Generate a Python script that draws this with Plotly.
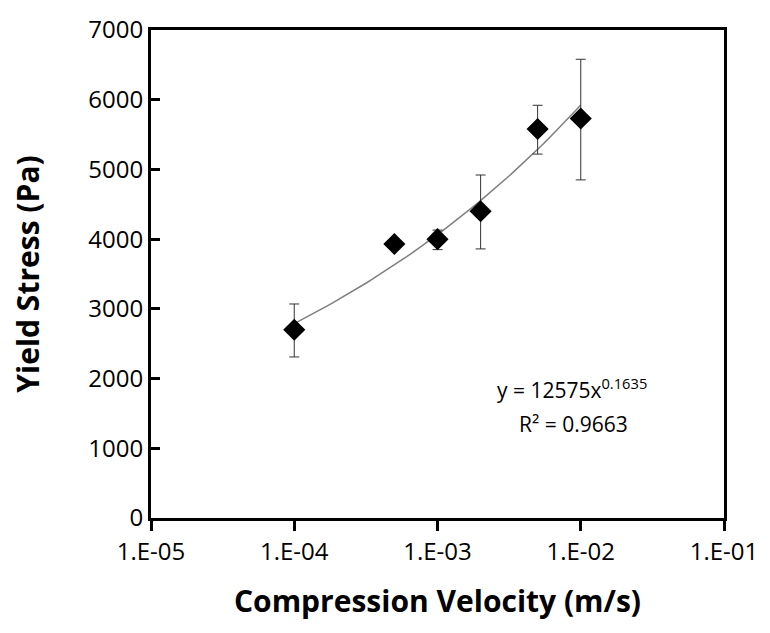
import numpy as np
import plotly.graph_objects as go

velocity = [1e-4, 5e-4, 1e-3, 2e-3, 5e-3, 1e-2]
yield_stress = [2700, 3930, 4000, 4400, 5580, 5730]
err_plus = [370, 0, 130, 520, 340, 850]
err_minus = [390, 0, 150, 540, 360, 880]

fit_a = 12575
fit_b = 0.1635
fit_x = np.logspace(-4, -2, 60)
fit_y = fit_a * fit_x ** fit_b

x_tickvals = [1e-5, 1e-4, 1e-3, 1e-2, 1e-1]
x_ticktext = ["1.E-05", "1.E-04", "1.E-03", "1.E-02", "1.E-01"]
y_tickvals = [0, 1000, 2000, 3000, 4000, 5000, 6000, 7000]

FONT = "Open Sans"

fig = go.Figure()
fig.add_trace(go.Scatter(
    x=fit_x, y=fit_y, mode="lines",
    line=dict(color="#7f7f7f", width=1.5), showlegend=False, hoverinfo="skip"))
fig.add_trace(go.Scatter(
    x=velocity, y=yield_stress, mode="markers",
    marker=dict(symbol="diamond", size=17, color="black"),
    error_y=dict(type="data", symmetric=False, array=err_plus, arrayminus=err_minus,
                 color="#333333", thickness=1, width=5),
    showlegend=False))

fig.add_annotation(xref="paper", yref="paper", x=0.735, y=0.265, showarrow=False,
                   text="y = 12575x<sup>0.1635</sup>", font=dict(family=FONT, size=21, color="black"),
                   xanchor="center", yanchor="middle")
fig.add_annotation(xref="paper", yref="paper", x=0.738, y=0.193, showarrow=False,
                   text="R² = 0.9663", font=dict(family=FONT, size=21, color="black"),
                   xanchor="center", yanchor="middle")

fig.update_layout(
    width=770, height=633,
    margin=dict(l=151, r=46, t=27, b=115),
    paper_bgcolor="white", plot_bgcolor="white",
    font=dict(family=FONT, color="black"),
    xaxis=dict(type="log", range=[-5, -1], tickvals=x_tickvals, ticktext=x_ticktext,
               ticks="outside", ticklen=10, tickwidth=3, tickcolor="black",
               showline=True, linecolor="black", linewidth=3, mirror=True,
               showgrid=False, zeroline=False,
               tickfont=dict(family=FONT, size=24),
               title=dict(text="<b>Compression Velocity (m/s)</b>",
                          font=dict(family=FONT, size=30), standoff=26)),
    yaxis=dict(range=[0, 7000], tickvals=y_tickvals,
               ticks="inside", ticklen=9, tickwidth=3, tickcolor="black",
               showline=True, linecolor="black", linewidth=3, mirror=True,
               showgrid=False, zeroline=False,
               tickfont=dict(family=FONT, size=24),
               title=dict(text="<b>Yield Stress (Pa)</b>",
                          font=dict(family=FONT, size=30), standoff=40)),
)

fig.write_html("out.html")
